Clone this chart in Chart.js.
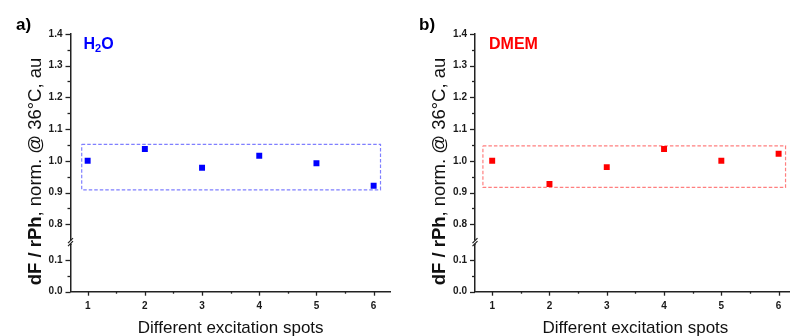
<!DOCTYPE html>
<html>
<head>
<meta charset="utf-8">
<script src="https://cdn.jsdelivr.net/npm/chart.js@4/dist/chart.umd.min.js"></script>
<style>
  html, body { margin: 0; padding: 0; background: #fff; overflow: hidden; }
  body { width: 790px; height: 336px; position: relative; }
  .panel { position: absolute; top: 0; height: 336px; }
  #pa { left: 0; width: 395px; }
  #pb { left: 395px; width: 405px; }
</style>
</head>
<body>
<div class="panel" id="pa"><canvas id="ca" width="395" height="336"></canvas></div>
<div class="panel" id="pb"><canvas id="cb" width="405" height="336"></canvas></div>
<script>
// ---- data ----
const spots = [1, 2, 3, 4, 5, 6];
const h2oValues = [1.000, 1.037, 0.978, 1.016, 0.992, 0.921];
const dmemValues = [1.000, 0.927, 0.980, 1.037, 1.000, 1.022];
const h2oBoxX = [0.896, 6.12];
const h2oBoxY = [0.9085, 1.0517];
const dmemBoxX = [0.838, 6.121];
const dmemBoxY = [0.916, 1.047];
const upperTicks = [0.8, 0.9, 1.0, 1.1, 1.2, 1.3, 1.4];
const upperMinor = [0.85, 0.95, 1.05, 1.15, 1.25, 1.35];
const lowerTicks = [0.0, 0.1];
const lowerMinor = [0.05];
const xTicks = [1, 2, 3, 4, 5, 6];
const xMinor = [1.5, 2.5, 3.5, 4.5, 5.5];
const xTitle = 'Different excitation spots';
const yTitleBold = 'dF / rPh';
const yTitleRest = ', norm. @ 36°C, au';

const AXIS = '#222222';
const TICKFONT = { family: 'Liberation Sans, Arial, sans-serif', size: 10, weight: 'bold' };
const YT = '18.5px "Liberation Sans", Arial, sans-serif';

function boxPoints(bx, by) {
  return [
    { x: bx[0], y: by[1] }, { x: bx[1], y: by[1] },
    { x: bx[1], y: by[0] }, { x: bx[0], y: by[0] },
    { x: bx[0], y: by[1] }
  ];
}

function makePanel(canvasId, cfg) {
  const decor = {
    id: 'decor',
    afterDraw(chart) {
      const ctx = chart.ctx;
      const xs = chart.scales.x, yU = chart.scales.yU, yL = chart.scales.yL;
      const L = chart.chartArea.left, B = chart.chartArea.bottom;
      ctx.save();
      ctx.strokeStyle = AXIS;
      ctx.lineWidth = 1.3;
      // y ticks
      const yt = (sc, vals, len) => vals.forEach(v => {
        const y = Math.round(sc.getPixelForValue(v)) + 0.5;
        ctx.beginPath(); ctx.moveTo(L - len, y); ctx.lineTo(L, y); ctx.stroke();
      });
      yt(yU, upperTicks, 5); yt(yU, upperMinor, 3);
      yt(yL, lowerTicks, 5); yt(yL, lowerMinor, 3);
      // x ticks
      const xt = (vals, len) => vals.forEach(v => {
        const x = Math.round(xs.getPixelForValue(v)) + 0.5;
        ctx.beginPath(); ctx.moveTo(x, B); ctx.lineTo(x, B + len); ctx.stroke();
      });
      xt(xTicks, 4); xt(xMinor, 2);
      // axis break
      const yTop = yU.getPixelForValue(0.75);
      const yBot = yL.getPixelForValue(0.15);
      ctx.fillStyle = '#fff';
      ctx.fillRect(L - 2, yTop + 0.5, 4, yBot - yTop - 1);
      ctx.lineWidth = 1.2;
      ctx.beginPath();
      ctx.moveTo(L - 2.5, yTop + 3); ctx.lineTo(L + 2.5, yTop - 2);
      ctx.moveTo(L - 2.5, yBot + 2); ctx.lineTo(L + 2.5, yBot - 3);
      ctx.stroke();
      // panel letter
      ctx.fillStyle = '#000';
      ctx.font = 'bold 17px "Liberation Sans", Arial, sans-serif';
      ctx.textBaseline = 'alphabetic';
      ctx.textAlign = 'left';
      ctx.fillText(cfg.letter, cfg.letterX, 30);
      // series label
      ctx.fillStyle = cfg.color;
      if (cfg.labelSub) {
        ctx.font = 'bold 16px "Liberation Sans", Arial, sans-serif';
        let x = cfg.labelX;
        ctx.fillText(cfg.labelMain, x, 49);
        x += ctx.measureText(cfg.labelMain).width;
        ctx.font = 'bold 11px "Liberation Sans", Arial, sans-serif';
        ctx.fillText(cfg.labelSub, x, 52);
        x += ctx.measureText(cfg.labelSub).width;
        ctx.font = 'bold 16px "Liberation Sans", Arial, sans-serif';
        ctx.fillText(cfg.labelTail, x, 49);
      } else {
        ctx.font = 'bold 16px "Liberation Sans", Arial, sans-serif';
        ctx.fillText(cfg.labelMain, cfg.labelX, 48.5);
      }
      // x title
      ctx.fillStyle = '#111';
      ctx.font = '17px "Liberation Sans", Arial, sans-serif';
      ctx.textAlign = 'center';
      ctx.fillText(xTitle, (xs.left + xs.right) / 2, 333);
      // y title (rotated, mixed weight)
      ctx.save();
      ctx.translate(cfg.yTitleX, 171.5);
      ctx.rotate(-Math.PI / 2);
      ctx.textAlign = 'left';
      ctx.font = 'bold ' + YT;
      const wb = ctx.measureText(yTitleBold).width;
      ctx.font = YT;
      const wr = ctx.measureText(yTitleRest).width;
      const x0 = -(wb + wr) / 2;
      ctx.font = 'bold ' + YT;
      ctx.fillText(yTitleBold, x0, 0);
      ctx.font = YT;
      ctx.fillText(yTitleRest, x0 + wb, 0);
      ctx.restore();
      ctx.restore();
    }
  };

  const yTickOpts = { font: TICKFONT, color: '#1a1a1a', padding: 8, callback: v => v.toFixed(1) };

  return new Chart(document.getElementById(canvasId), {
    type: 'scatter',
    data: {
      datasets: [
        {
          data: spots.map((s, i) => ({ x: s, y: cfg.values[i] })),
          yAxisID: 'yU',
          pointStyle: 'rect',
          pointRadius: 4.2,
          pointHoverRadius: 4.2,
          backgroundColor: cfg.color,
          borderColor: cfg.color,
          borderWidth: 0,
          showLine: false
        },
        {
          data: boxPoints(cfg.boxX, cfg.boxY),
          yAxisID: 'yU',
          showLine: true,
          pointRadius: 0,
          borderColor: cfg.boxColor,
          borderWidth: 1.2,
          borderDash: [3.5, 2],
          fill: false,
          tension: 0
        }
      ]
    },
    options: {
      responsive: false,
      animation: false,
      events: [],
      layout: { padding: { top: 33.8, right: cfg.padRight, left: 0, bottom: 0 } },
      plugins: { legend: { display: false }, tooltip: { enabled: false } },
      scales: {
        x: {
          type: 'linear', position: 'bottom', min: 0.7, max: 6.3,
          afterBuildTicks: s => { s.ticks = xTicks.map(v => ({ value: v })); },
          afterFit: s => { s.height = 44.3; },
          grid: { display: false, drawTicks: false },
          border: { display: true, color: AXIS, width: 1.5 },
          ticks: { font: TICKFONT, color: '#1a1a1a', padding: 9, maxRotation: 0, autoSkip: false,
                   callback: v => String(v) }
        },
        yU: {
          type: 'linear', position: 'left', stack: 'brk', stackWeight: 0.6625, weight: 1,
          min: 0.7375, max: 1.4,
          afterBuildTicks: s => { s.ticks = upperTicks.map(v => ({ value: v })); },
          afterFit: s => { s.width = cfg.axisLeft; },
          grid: { display: false, drawTicks: false },
          border: { display: true, color: AXIS, width: 1.5 },
          ticks: yTickOpts
        },
        yL: {
          type: 'linear', position: 'left', stack: 'brk', stackWeight: 0.15, weight: 0,
          min: 0, max: 0.15,
          afterBuildTicks: s => { s.ticks = lowerTicks.map(v => ({ value: v })); },
          afterFit: s => { s.width = cfg.axisLeft; },
          grid: { display: false, drawTicks: false },
          border: { display: true, color: AXIS, width: 1.5 },
          ticks: yTickOpts
        }
      }
    },
    plugins: [decor]
  });
}

makePanel('ca', {
  values: h2oValues, boxX: h2oBoxX, boxY: h2oBoxY,
  color: '#0000ff', boxColor: '#7f7fff',
  axisLeft: 70.5, padRight: 2.7,
  letter: 'a)', letterX: 16,
  labelMain: 'H', labelSub: '2', labelTail: 'O', labelX: 83.5,
  yTitleX: 41
});
makePanel('cb', {
  values: dmemValues, boxX: dmemBoxX, boxY: dmemBoxY,
  color: '#ff0000', boxColor: '#ff7f7f',
  axisLeft: 80, padRight: 4,
  letter: 'b)', letterX: 24,
  labelMain: 'DMEM', labelX: 94,
  yTitleX: 49.5
});
</script>
</body>
</html>
